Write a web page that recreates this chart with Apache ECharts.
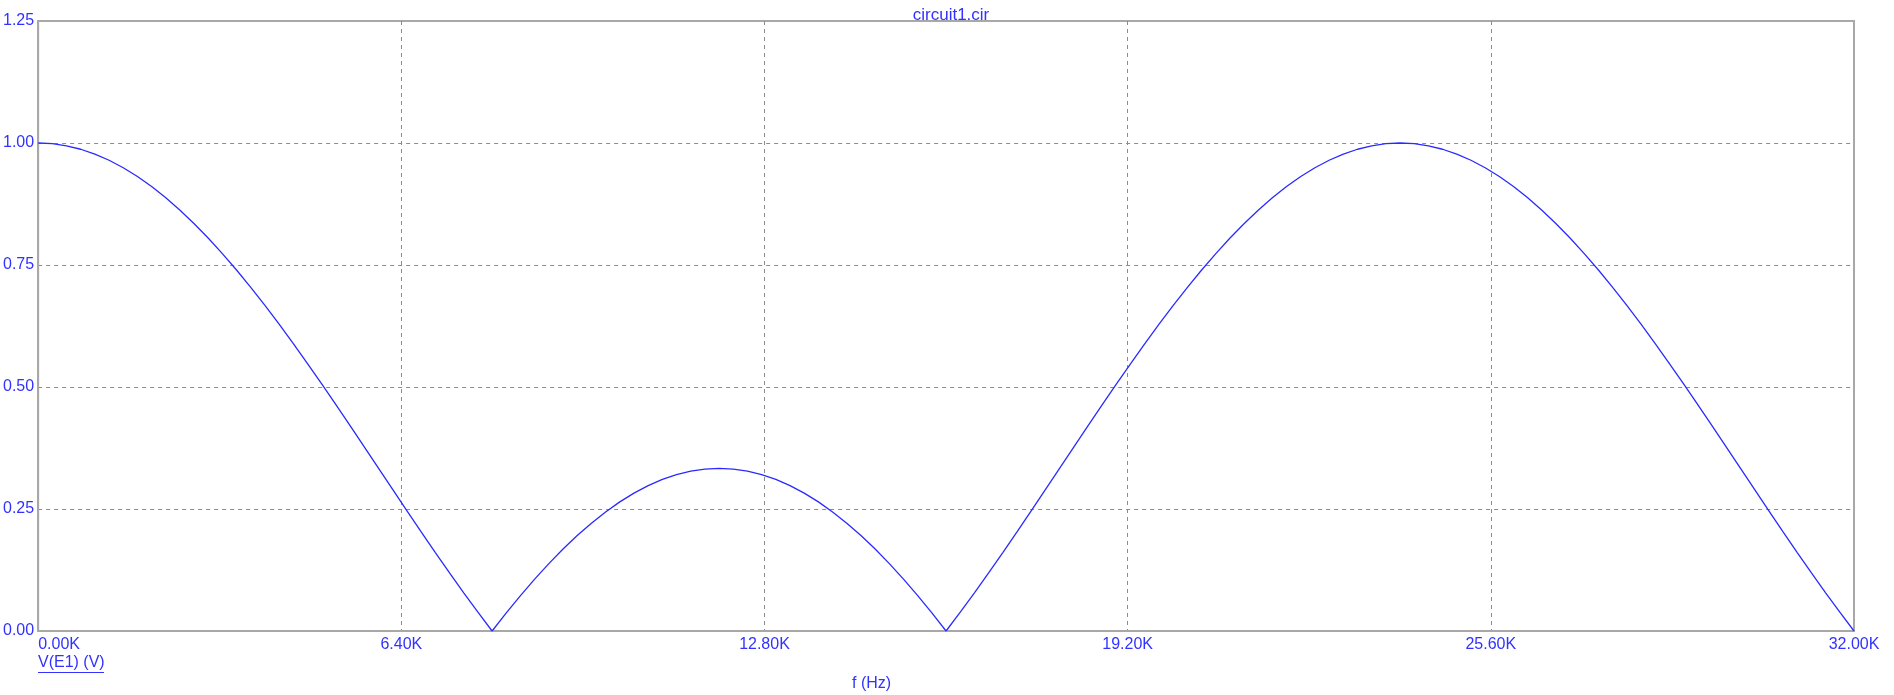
<!DOCTYPE html>
<html>
<head>
<meta charset="utf-8">
<script src="https://cdn.jsdelivr.net/npm/echarts@6/dist/echarts.min.js"></script>
<style>
html,body{margin:0;padding:0;background:#fff;}
#c{width:1894px;height:695px;}
</style>
</head>
<body>
<div id="c"></div>
<script>
const title = 'circuit1.cir';
const xName = 'f (Hz)';
const traceName = 'V(E1) (V)';
// frequency in kHz
const freqK = [0,0.25,0.5,0.75,1,1.25,1.5,1.75,2,2.25,2.5,2.75,3,3.25,3.5,3.75,4,4.25,4.5,4.75,5,5.25,5.5,5.75,6,6.25,6.5,6.75,7,7.25,7.5,7.75,8,
  8.25,8.5,8.75,9,9.25,9.5,9.75,10,10.25,10.5,10.75,11,11.25,11.5,11.75,12,
  12.25,12.5,12.75,13,13.25,13.5,13.75,14,14.25,14.5,14.75,15,15.25,15.5,15.75,16,
  16.25,16.5,16.75,17,17.25,17.5,17.75,18,18.25,18.5,18.75,19,19.25,19.5,19.75,20,
  20.25,20.5,20.75,21,21.25,21.5,21.75,22,22.25,22.5,22.75,23,23.25,23.5,23.75,24,
  24.25,24.5,24.75,25,25.25,25.5,25.75,26,26.25,26.5,26.75,27,27.25,27.5,27.75,28,
  28.25,28.5,28.75,29,29.25,29.5,29.75,30,30.25,30.5,30.75,31,31.25,31.5,31.75,32];
const volts = [1,0.9986,0.9943,0.9872,0.9773,0.9646,0.9493,0.9313,0.9107,0.8877,0.8622,0.8346,0.8047,0.7729,0.7392,0.7037,0.6667,0.6282,0.5885,0.5476,0.5059,0.4634,0.4204,0.3769,0.3333,0.2897,0.2463,0.2033,0.1608,0.1190,0.0782,0.0385,0,
  0.0371,0.0725,0.1062,0.1381,0.1679,0.1956,0.2210,0.2440,0.2646,0.2826,0.2980,0.3106,0.3205,0.3276,0.3319,0.3333,
  0.3319,0.3276,0.3205,0.3106,0.2980,0.2826,0.2646,0.2440,0.2210,0.1956,0.1679,0.1381,0.1062,0.0725,0.0371,0,
  0.0385,0.0782,0.1190,0.1608,0.2033,0.2463,0.2897,0.3333,0.3769,0.4204,0.4634,0.5059,0.5476,0.5885,0.6282,0.6667,
  0.7037,0.7392,0.7729,0.8047,0.8346,0.8622,0.8877,0.9107,0.9313,0.9493,0.9646,0.9773,0.9872,0.9943,0.9986,1,
  0.9986,0.9943,0.9872,0.9773,0.9646,0.9493,0.9313,0.9107,0.8877,0.8622,0.8346,0.8047,0.7729,0.7392,0.7037,0.6667,
  0.6282,0.5885,0.5476,0.5059,0.4634,0.4204,0.3769,0.3333,0.2897,0.2463,0.2033,0.1608,0.1190,0.0782,0.0385,0];
const xTicks = [0,6.4,12.8,19.2,25.6,32];
const yTicks = [0,0.25,0.5,0.75,1,1.25];

const txt = '#3232ff';
const font = 'Arial, "Liberation Sans", sans-serif';
const chart = echarts.init(document.getElementById('c'), null, {renderer:'canvas'});
chart.setOption({
  animation:false,
  backgroundColor:'#ffffff',
  title:{text:title,left:946,top:2,textAlign:'center',
    textStyle:{color:txt,fontSize:17,fontWeight:'normal',fontFamily:font}},
  graphic:[
    {type:'text',left:38,top:655,style:{text:traceName,fill:txt,font:'16px '+font}},
    {type:'line',shape:{x1:38,y1:672.5,x2:104,y2:672.5},style:{stroke:txt,lineWidth:1}},
    {type:'text',left:852,top:676,style:{text:xName,fill:txt,font:'16px '+font}}
  ],
  grid:{left:38,right:40,top:21,bottom:64,show:true,borderColor:'#a8a8a8',borderWidth:2,backgroundColor:'transparent'},
  xAxis:{type:'value',min:0,max:32,interval:6.4,
    axisLine:{show:true,lineStyle:{color:'#a8a8a8',width:2}},
    axisTick:{show:false},
    axisLabel:{color:txt,fontSize:16,fontFamily:font,margin:6,alignMinLabel:'left',
      formatter:v=>v.toFixed(2)+'K'},
    splitLine:{show:true,showMinLine:false,showMaxLine:false,lineStyle:{color:'#8c8c8c',type:[4,4],width:1}}
  },
  yAxis:{type:'value',min:0,max:1.25,interval:0.25,
    axisLine:{show:true,lineStyle:{color:'#a8a8a8',width:2}},
    axisTick:{show:false},
    axisLabel:{color:txt,fontSize:16,fontFamily:font,margin:4,formatter:v=>v.toFixed(2)},
    splitLine:{show:true,showMinLine:false,showMaxLine:false,lineStyle:{color:'#8c8c8c',type:[4,4],width:1}}
  },
  series:[{type:'line',data:freqK.map((f,i)=>[f,volts[i]]),showSymbol:false,
    lineStyle:{color:'#2a2aff',width:1.3},z:3}]
});
</script>
</body>
</html>
